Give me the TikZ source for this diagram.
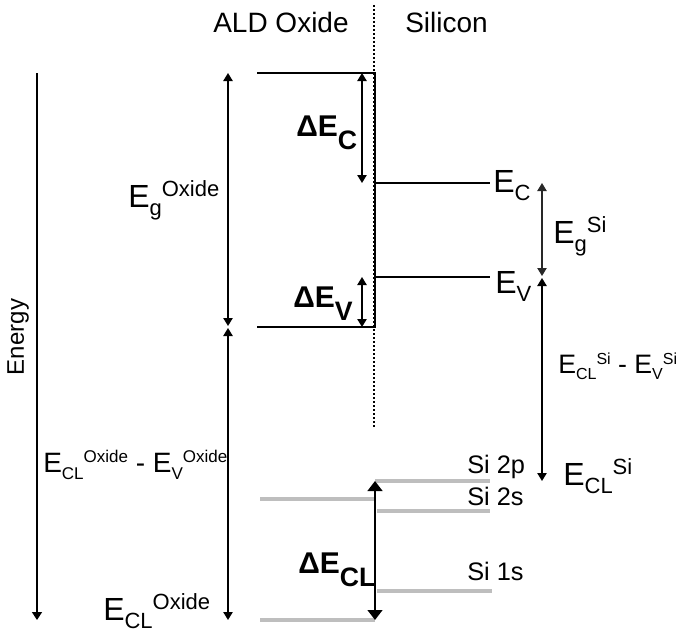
\documentclass[tikz,border=0pt]{standalone}
\usepackage{fontspec}
\setmainfont{Liberation Sans}
\usetikzlibrary{arrows.meta,positioning}
\definecolor{coregray}{RGB}{190,190,190}
\definecolor{dimgray}{RGB}{40,40,40}

% lowered / raised script of a given size
\newcommand{\lo}[2]{\raisebox{-0.25em}{\fontsize{#1}{#1}\selectfont #2}}
\newcommand{\hi}[2]{\raisebox{0.33em}{\fontsize{#1}{#1}\selectfont #2}}
\newcommand{\lob}[2]{\raisebox{-0.45em}{\fontsize{#1}{#1}\selectfont #2}}

\begin{document}
\begin{tikzpicture}[
  x=0.75pt, y=-0.75pt,
  band/.style={line width=2.1pt, black},
  core/.style={line width=3pt, coregray},
  gap/.style={{Triangle[length=6pt,width=7pt]}-{Triangle[length=6pt,width=7pt]}, line width=1.1pt},
  bigvec/.style={{Triangle[length=7.5pt,width=11pt]}-{Triangle[length=7.5pt,width=11pt]}, line width=1.8pt},
  lbl/.style={inner sep=0pt, anchor=base west, font=\fontsize{24}{28}\selectfont},
  dlbl/.style={inner sep=0pt, anchor=base west, font=\bfseries\fontsize{22.5}{26}\selectfont},
  head/.style={inner sep=0pt, anchor=base west, font=\fontsize{21}{25}\selectfont}
]
  \useasboundingbox (0,0) rectangle (677,635);

  % headings and interface
  \node[head] (ald) at (213,33) {ALD Oxide};
  \node[head] (sil) at (405,33) {Silicon};
  \coordinate (ifTop) at (374,5);
  \coordinate (ifBot) at (374,428);
  \draw[line width=1.5pt, dash pattern=on 1.5pt off 1.5pt] (ifTop) -- (ifBot);

  % energy axis
  \coordinate (enTop) at (37,73);
  \coordinate (enBot) at (37,620);
  \draw[-{Triangle[length=6pt,width=7.5pt]}, line width=1.1pt] (enTop) -- (enBot);
  \node[rotate=90, inner sep=0pt, font=\fontsize{18}{21}\selectfont] (energy) at (18,337) {Energy};

  % oxide bands
  \coordinate (oxC0) at (257,73);
  \coordinate (oxC1) at (375,73);
  \coordinate (oxV0) at (257,327);
  \coordinate (oxV1) at (375,327);
  \draw[band] (oxC0) -- (oxC1) -- (oxV1) -- (oxV0);

  % silicon bands
  \coordinate (siC0) at (375,183);
  \coordinate (siC1) at (490,183);
  \coordinate (siV0) at (375,277);
  \coordinate (siV1) at (490,277);
  \draw[band, line width=1.8pt] (siC0) -- (siC1);
  \draw[band, line width=1.8pt] (siV0) -- (siV1);

  % core levels
  \coordinate (oxL0) at (260,499);
  \coordinate (oxL1) at (375,499);
  \coordinate (oxK0) at (260,620);
  \coordinate (oxK1) at (375,620);
  \coordinate (twoP0) at (375,481);
  \coordinate (twoP1) at (490,481);
  \coordinate (twoS0) at (377,511);
  \coordinate (twoS1) at (490,511);
  \coordinate (oneS0) at (377,591);
  \coordinate (oneS1) at (492,591);
  \draw[core] (oxL0) -- (oxL1);
  \draw[core] (oxK0) -- (oxK1);
  \draw[core] (twoP0) -- (twoP1);
  \draw[core] (twoS0) -- (twoS1);
  \draw[core] (oneS0) -- (oneS1);

  % oxide gaps
  \coordinate (egoxTop) at (228,73);
  \coordinate (egoxBot) at (228,326);
  \coordinate (cloxTop) at (228,328);
  \coordinate (cloxBot) at (228,620);
  \draw[gap] (egoxTop) -- (egoxBot);
  \draw[gap] (cloxTop) -- (cloxBot);

  % band offsets
  \coordinate (dcTop) at (362,73);
  \coordinate (dcBot) at (362,183);
  \coordinate (dvTop) at (362,277);
  \coordinate (dvBot) at (362,327);
  \draw[gap] (dcTop) -- (dcBot);
  \draw[gap] (dvTop) -- (dvBot);

  % silicon gaps
  \coordinate (egsiTop) at (542,183);
  \coordinate (egsiBot) at (542,276);
  \coordinate (clsiTop) at (542,278);
  \coordinate (clsiBot) at (542,481);
  \draw[gap, line width=0.9pt, dimgray] (egsiTop) -- (egsiBot);
  \draw[gap] (clsiTop) -- (clsiBot);

  % core level offset
  \coordinate (dclTop) at (375,481);
  \coordinate (dclBot) at (375,620);
  \draw[bigvec] (dclTop) -- (dclBot);

  % labels
  \node[lbl] (egox) at (128,207) {E\lo{16.5}{g}\hi{16.5}{Oxide}};
  \node[lbl, font=\fontsize{21}{25}\selectfont] (clox) at (43,472)
    {E\lo{12.75}{CL}\hi{12.75}{Oxide} - E\lo{12.75}{V}\hi{12.75}{Oxide}};
  \node[lbl] (eclox) at (103,620) {E\lo{16.5}{CL}\hi{16.5}{Oxide}};
  \node[lbl] (ec) at (493,192) {E\lo{16.5}{C}};
  \node[lbl] (ev) at (495,293) {E\lo{16.5}{V}};
  \node[lbl] (egsi) at (553,243) {E\lo{16.5}{g}\hi{16.5}{Si}};
  \node[lbl, font=\fontsize{20}{24}\selectfont] (clsi) at (558,373)
    {E\lo{12}{CL}\hi{12}{Si} - E\lo{12}{V}\hi{12}{Si}};
  \node[lbl] (eclsi) at (563,485) {E\lo{16.5}{CL}\hi{16.5}{Si}};
  \node[dlbl] (dec) at (296,136) {ΔE\lob{20}{C}};
  \node[dlbl] (dev) at (293,307) {ΔE\lob{20}{V}};
  \node[dlbl] (decl) at (298,573) {ΔE\lob{20}{CL}};
  \node[lbl, font=\fontsize{19}{22}\selectfont] (si2p) at (467,473) {Si 2p};
  \node[lbl, font=\fontsize{19}{22}\selectfont] (si2s) at (467,505) {Si 2s};
  \node[lbl, font=\fontsize{19}{22}\selectfont] (si1s) at (467,580) {Si 1s};
\end{tikzpicture}
\end{document}
